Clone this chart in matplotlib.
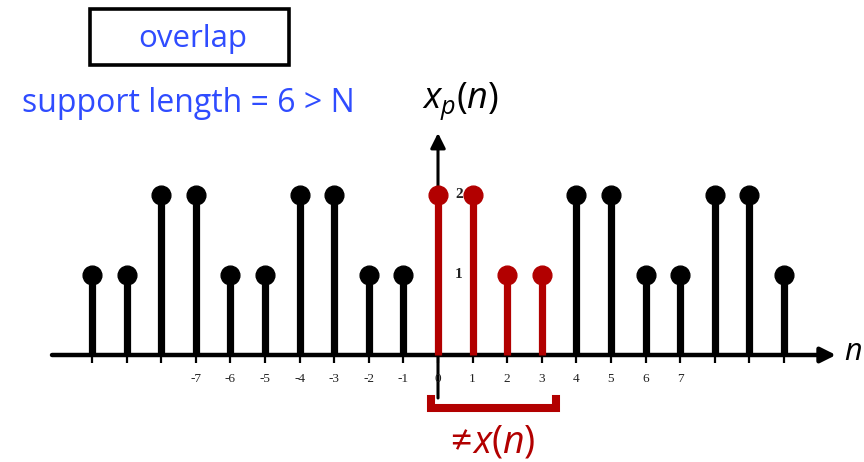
import matplotlib
matplotlib.use("Agg")
import matplotlib.pyplot as plt
from matplotlib.patches import Rectangle

# periodic extension x_p(n) with period 4 of a length-6 sequence
n_black = [-10, -9, -8, -7, -6, -5, -4, -3, -2, -1, 4, 5, 6, 7, 8, 9, 10]
v_black = [1, 1, 2, 2, 1, 1, 2, 2, 1, 1, 2, 2, 1, 1, 2, 2, 1]
n_red = [0, 1, 2, 3]
v_red = [2, 2, 1, 1]
tick_n = list(range(-10, 11))
label_n = list(range(-7, 8))
level_labels = [1, 2]

W, H = 864, 462
DPI = 100
X0, DX = 438.0, 34.6      # pixel of n=0, pixels per sample
Y0, DY = 355.0, 80.0      # pixel of the baseline, pixels per unit

plt.rcParams['mathtext.fontset'] = 'custom'
plt.rcParams['mathtext.rm'] = 'Open Sans'
plt.rcParams['mathtext.it'] = 'Open Sans:italic'

fig = plt.figure(figsize=(W / DPI, H / DPI), dpi=DPI)
ax = fig.add_axes([0, 0, 1, 1])
ax.set_xlim(-X0 / DX, (W - X0) / DX)
ax.set_ylim(-(H - Y0) / DY, Y0 / DY)
ax.axis('off')

def px(x):
    return (x - X0) / DX

def py(y):
    return (Y0 - y) / DY

red = '#b20000'
blue = '#2f4cff'

# axes with arrows
ax.annotate('', xy=(px(836), 0), xytext=(px(52), 0),
            arrowprops=dict(arrowstyle='-|>,head_length=0.9,head_width=0.45',
                            lw=3.2, color='black', shrinkA=0, shrinkB=0),
            zorder=1)
ax.annotate('', xy=(0, py(133)), xytext=(0, py(398)),
            arrowprops=dict(arrowstyle='-|>,head_length=0.9,head_width=0.45',
                            lw=2.2, color='black', shrinkA=0, shrinkB=0),
            zorder=1)

# small ticks below the baseline
ax.vlines(tick_n, -8 / DY, 0, color='black', lw=1.6, zorder=1)

# stems
for nn, vv, col in [(n_black, v_black, 'black'), (n_red, v_red, red)]:
    ml, sl, bl = ax.stem(nn, vv, linefmt='-', markerfmt='o', basefmt=' ')
    plt.setp(sl, color=col, linewidth=5.2, zorder=3)
    plt.setp(ml, color=col, markersize=13.5, zorder=4)

# tick labels
for k in label_n:
    ax.text(k, py(379), f'{k}', ha='center', va='center',
            fontsize=9.5, family='Liberation Serif', color='#222222', zorder=2)

# level labels next to the vertical axis
for v in level_labels:
    ax.text(px(459), v, f'{v}', ha='center', va='center', fontsize=11,
            family='Liberation Serif', fontweight='bold', color='#222222', zorder=5)

# axis names
ax.text(px(461), py(101), r'$x_p(n)$', ha='center', va='center',
        fontsize=26, color='black')
ax.text(px(853), py(352), r'$n$', ha='center', va='center', fontsize=22, color='black')

# bracket marking one period
ax.plot([px(431), px(431), px(556), px(556)],
        [py(399), py(408), py(408), py(399)],
        color=red, lw=5.8, solid_capstyle='projecting',
        solid_joinstyle='miter', zorder=3)
ax.text(px(490), py(442), r'$\neq\!x\mathrm{(}n\mathrm{)}$', ha='center', va='center',
        fontsize=27, color=red)

# annotation box
fig.patches.append(Rectangle((90 / W, 1 - 65 / H), 199 / W, 56 / H,
                             transform=fig.transFigure, fill=False,
                             lw=2.6, edgecolor='black'))
fig.text(193 / W, 1 - 39 / H, 'overlap', ha='center', va='center',
         fontsize=22.5, family='Open Sans', color=blue)
fig.text(188 / W, 1 - 103 / H, 'support length = 6 > N', ha='center', va='center',
         fontsize=23, family='Open Sans', color=blue)

fig.savefig('out.png', dpi=DPI)
